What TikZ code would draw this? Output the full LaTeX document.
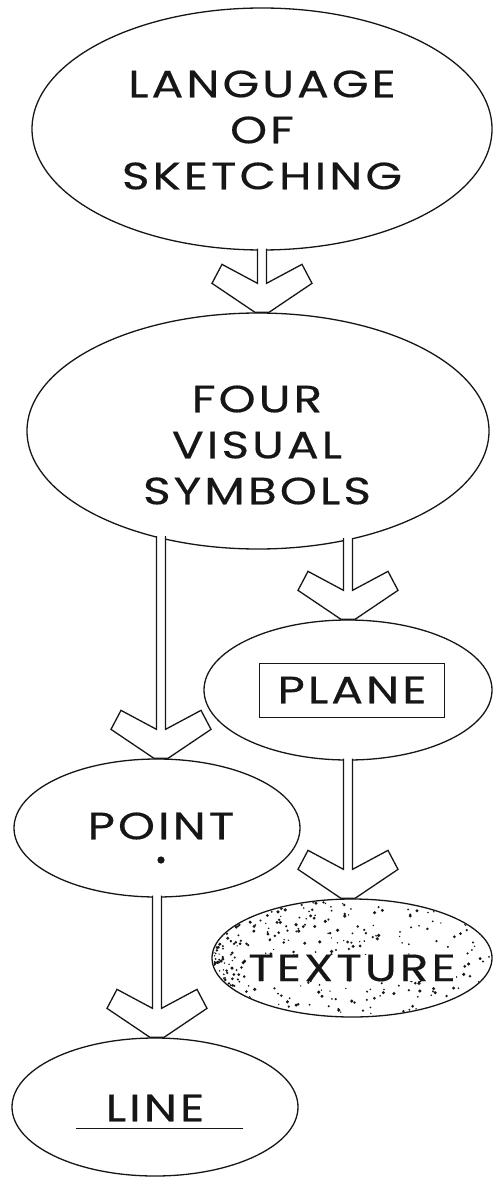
\documentclass[tikz,border=0pt]{standalone}
\usepackage{fontspec}
\newfontfamily\croquis[FakeStretch=1.24,LetterSpace=8,FakeBold=0.4]{Poppins}
\usetikzlibrary{shapes.geometric,calc}
\definecolor{tinta}{HTML}{161616}
\tikzset{
  bombolla/.style={ellipse, draw=tinta, line width=1.3pt, fill=white, inner sep=0pt},
  rotul/.style={font=\croquis\fontsize{38}{46}\selectfont, text=tinta, align=center, inner sep=0pt},
  fletxa/.style={draw=tinta, fill=white, line width=1.3pt, line join=miter},
  caixa/.style={draw=tinta, line width=.6pt, minimum width=185pt, minimum height=54pt},
  subratllat/.style={draw=tinta, line width=.7pt},
}
% Fletxa de bloc: tija que surt de #1 i punta plana sobre #2.
\newcommand{\fletxa}[2]{%
  \filldraw[fletxa] let \p1=#1, \p2=#2 in
    (\x1-4.5pt,\y1+2pt) -- (\x1-4.5pt,\y2+29pt) -- (\x1-40pt,\y2+48pt)
    -- (\x1-50pt,\y2+29pt) -- (\x1-7pt,\y2) -- (\x1+7pt,\y2)
    -- (\x1+50pt,\y2+29pt) -- (\x1+40pt,\y2+48pt) -- (\x1+4.5pt,\y2+29pt)
    -- (\x1+4.5pt,\y1+2pt);}

\begin{document}
\begin{tikzpicture}[x=1pt,y=-1pt]
  \useasboundingbox (0,0) rectangle (493,1177);

  % Bombolles.
  \node[bombolla, minimum width=460, minimum height=242] (llengua) at (262,129) {};
  \node[bombolla, minimum width=462, minimum height=236] (quatre) at (258,431) {};
  \node[bombolla, minimum width=288, minimum height=140] (pla) at (348,690) {};
  \node[bombolla, minimum width=286, minimum height=138] (punt) at (157,828) {};
  \node[bombolla, minimum width=280, minimum height=118] (textura) at (352,958) {};
  \node[bombolla, minimum width=286, minimum height=138] (linia) at (155,1107) {};

  % Puntejat de la textura, molt més dens a l'esquerra.
  \begin{scope}
    \clip (textura.center) ellipse (139pt and 58pt);
    \pgfmathsetseed{1177}
    \foreach \k in {1,...,480}{
      \pgfmathsetmacro\du{rnd^2.6}
      \pgfmathsetmacro\dv{rnd}
      \pgfmathsetmacro\dr{0.7+rnd*1.1}
      \fill[tinta] ($(textura.center)+(-139+278*\du,-58+116*\dv)$) circle (\dr pt);
    }
  \end{scope}

  % Rètols.
  \node[rotul] (t-llengua) at (262,130) {LANGUAGE\\OF\\SKETCHING};
  \node[rotul] (t-quatre) at (257,445) {FOUR\\VISUAL\\SYMBOLS};
  \node[rotul, caixa] (t-pla) at (352,690) {PLANE};
  \node[rotul] (t-punt) at (161,826) {POINT};
  \node[rotul, fill=white] (t-textura) at (352,968) {TEXTURE};
  \node[rotul] (t-linia) at (155,1108) {LINE};

  % Punt i línia dins les bombolles.
  \fill[tinta] ([xshift=4pt,yshift=-32pt]punt.center) circle (3.6pt);
  \draw[subratllat] ([xshift=-79pt,yshift=-21pt]linia.center)
    -- ([xshift=88pt,yshift=-21pt]linia.center);

  % Fletxes.
  \coordinate (sortida-e) at (161,538);
  \coordinate (sortida-d) at (348,540);
  \fletxa{(llengua.south)}{(quatre.north)}
  \fletxa{(sortida-e)}{(punt.north)}
  \fletxa{(sortida-d)}{(pla.north)}
  \fletxa{(pla.south)}{(textura.north)}
  \fletxa{(punt.south)}{(linia.north)}
\end{tikzpicture}
\end{document}
